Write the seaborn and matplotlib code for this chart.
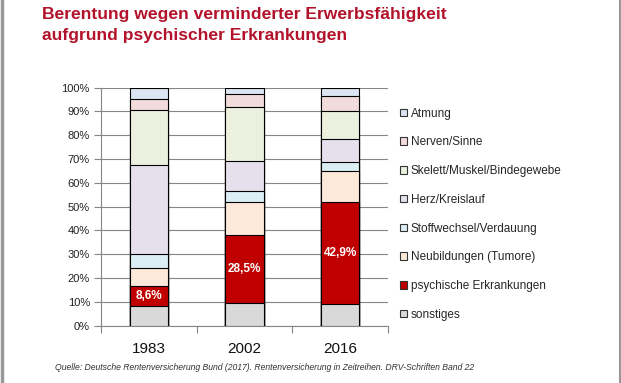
import pandas as pd
import matplotlib.pyplot as plt
import seaborn as sns
from matplotlib.patches import Patch
from matplotlib.lines import Line2D
from matplotlib.ticker import PercentFormatter

years = ['1983', '2002', '2016']
# stacking order bottom -> top
groups = ['sonstiges', 'psychische Erkrankungen', 'Neubildungen (Tumore)',
          'Stoffwechsel/Verdauung', 'Herz/Kreislauf', 'Skelett/Muskel/Bindegewebe',
          'Nerven/Sinne', 'Atmung']
sonstiges = [8.1, 9.4, 9.1]
psychisch = [8.6, 28.5, 42.9]
neubildungen = [7.5, 14.1, 13.0]
stoffwechsel = [5.9, 4.6, 3.8]
herz = [37.5, 12.6, 9.6]
skelett = [23.1, 22.7, 11.9]
nerven = [4.4, 5.4, 6.3]
atmung = [4.9, 2.7, 3.4]
colors = ['#d9d9d9', '#c00000', '#fde9d9', '#dbeef3', '#e5e0ec', '#ebf1de', '#f2dcdb', '#dce6f2']
labels_psych = ['8,6%', '28,5%', '42,9%']

df = pd.DataFrame({'year': years, 'sonstiges': sonstiges, 'psychische Erkrankungen': psychisch,
                   'Neubildungen (Tumore)': neubildungen, 'Stoffwechsel/Verdauung': stoffwechsel,
                   'Herz/Kreislauf': herz, 'Skelett/Muskel/Bindegewebe': skelett,
                   'Nerven/Sinne': nerven, 'Atmung': atmung})
cum = df[groups].cumsum(axis=1)

sns.set_theme(style='white')
plt.rcParams['font.family'] = ['Liberation Sans', 'DejaVu Sans']

fig = plt.figure(figsize=(6.21, 3.83), dpi=100)
ax = fig.add_axes([101 / 621, 1 - 325.5 / 383, 287 / 621, (325.5 - 87.7) / 383])

# draw tallest cumulative first so lower segments sit on top
for g, c in reversed(list(zip(groups, colors))):
    sns.barplot(x=df['year'], y=cum[g], color=c, width=0.4, edgecolor='black',
                linewidth=0.8, saturation=1, ax=ax, zorder=3)

# labels in red segment
for i, lab in enumerate(labels_psych):
    mid = sonstiges[i] + psychisch[i] / 2
    ax.text(i, mid, lab, ha='center', va='center', color='white',
            fontsize=8.5, fontweight='bold', zorder=5)

ax.set_ylim(0, 100)
ax.set_xlim(-0.5, 2.5)
ax.set_yticks(range(0, 101, 10))
ax.yaxis.set_major_formatter(PercentFormatter(decimals=0))
ax.yaxis.grid(True, color='#868686', linewidth=0.8, zorder=0)
ax.set_axisbelow(True)
ax.tick_params(axis='y', which='major', left=True, length=5, width=0.8,
               color='#868686', labelsize=8, pad=3, labelcolor='#222222')
ax.set_xticks([-0.5, 0.5, 1.5, 2.5], minor=True)
ax.tick_params(axis='x', which='minor', bottom=True, length=5, width=0.8, color='#868686')
ax.tick_params(axis='x', which='major', bottom=False, labelsize=11, pad=6, labelcolor='#111111')
ax.set_xlabel('')
ax.set_ylabel('')
for s in ['top', 'right']:
    ax.spines[s].set_visible(False)
for s in ['left', 'bottom']:
    ax.spines[s].set_color('#868686')
    ax.spines[s].set_linewidth(0.8)

handles = [Patch(facecolor=c, edgecolor='#333333', linewidth=0.8, label=g)
           for g, c in zip(groups, colors)][::-1]
fig.legend(handles=handles, loc='upper left', bbox_to_anchor=(400 / 621, 1 - 107.5 / 383),
           frameon=False, fontsize=8.5, handlelength=0.6, handleheight=0.6,
           handletextpad=0.3, labelspacing=1.42, borderpad=0, borderaxespad=0)

title_color = '#b3122b'
fig.text(42 / 621, 1 - 18.5 / 383, 'Berentung wegen verminderter Erwerbsfähigkeit',
         fontsize=12.6, fontweight='bold', color=title_color, ha='left', va='baseline')
fig.text(42 / 621, 1 - 40 / 383, 'aufgrund psychischer Erkrankungen',
         fontsize=12.6, fontweight='bold', color=title_color, ha='left', va='baseline')

fig.text(55 / 621, 1 - 368 / 383,
         'Quelle: Deutsche Rentenversicherung Bund (2017). Rentenversicherung in Zeitreihen. DRV-Schriften Band 22',
         fontsize=6.2, style='italic', color='#333333', ha='left', va='center')

# slide frame at left/right edges
fig.add_artist(Line2D([1.5 / 621, 1.5 / 621], [0, 1], color='#999999', linewidth=2.5, transform=fig.transFigure))
fig.add_artist(Line2D([619.5 / 621, 619.5 / 621], [0, 1], color='#999999', linewidth=1.5, transform=fig.transFigure))

fig.savefig('out.png', dpi=100)
